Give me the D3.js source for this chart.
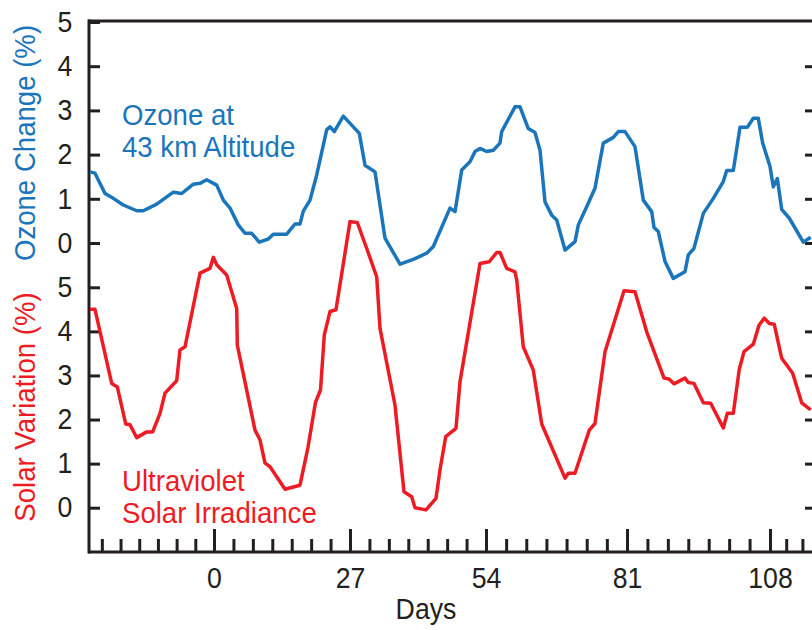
<!DOCTYPE html>
<html>
<head>
<meta charset="utf-8">
<script src="https://cdn.jsdelivr.net/npm/d3@7"></script>
<style>
  body { margin: 0; background: #fff; }
  text { font-family: "Liberation Sans Narrow", "Liberation Sans", Arial, sans-serif; }
</style>
</head>
<body>
<svg id="chart" width="812" height="630"></svg>
<script>
// ozone change at 43 km (days, %)
const ozoneDays = [-25.6, -24.56, -22.49, -20.78, -18.72, -15.95, -14.59, -11.82, -8.4, -6.66, -4.27, -2.89, -1.51,
  0.54, 1.85, 3.18, 4.82, 6.15, 7.48, 8.99, 10.78, 11.77, 14.43, 16.08, 17.07, 17.73, 19.06, 20.39, 22.37, 23.03, 23.88, 25.67,
  28.85, 29.98, 31.96, 33.95, 36.93, 39.57, 42.23, 43.54, 46.85, 47.85, 49.18, 50.82, 51.82, 52.81,
  54.13, 55.4, 56.68, 57.01, 59.55, 60.51, 62.1, 63.38, 64.34, 65.3, 66.58, 67.54, 69.13, 71.04, 71.68, 73.28, 74.87, 76.46, 78.38, 79.34, 80.62,
  82.51, 84.08, 85.66, 86.1, 86.91, 88.18, 89.74, 91.95, 92.57, 93.65, 95.41, 97.3, 99.18, 99.83, 101.07, 102.34, 103.72, 104.85, 105.79, 106.62,
  108, 108.79, 109.74, 110.79, 112.6, 115.93, 117.69];
const ozoneVals = [1.61, 1.58, 1.12, 1.01, 0.86, 0.73, 0.73, 0.88, 1.15, 1.12, 1.33, 1.35, 1.43,
  1.31, 0.97, 0.79, 0.41, 0.22, 0.22, 0.02, 0.09, 0.2, 0.2, 0.43, 0.43, 0.72, 0.97, 1.54, 2.56, 2.63, 2.52, 2.87,
  2.48, 1.76, 1.61, 0.11, -0.48, -0.37, -0.23, -0.08, 0.79, 0.71, 1.65, 1.84, 2.07, 2.14,
  2.07, 2.1, 2.26, 2.52, 3.08, 3.08, 2.59, 2.5, 2.1, 0.93, 0.63, 0.52, -0.16, 0.03, 0.41, 0.82, 1.24, 2.26, 2.39, 2.52, 2.52,
  2.18, 0.97, 0.71, 0.35, 0.26, -0.42, -0.8, -0.65, -0.27, -0.12, 0.67, 1.01, 1.39, 1.64, 1.64, 2.62, 2.62, 2.82, 2.82, 2.26,
  1.73, 1.27, 1.46, 0.76, 0.56, 0.02, 0.13];

// ultraviolet solar irradiance (days, %)
const solarDays = [-25.59, -24.56, -21.11, -19.95, -18.22, -17.33, -15.95, -13.89, -12.65, -11.14, -10.11, -7.7, -7.02, -5.98, -2.89, -0.82, -0.14,
  0.54, 2.52, 4.51, 4.63, 8.14, 9.13, 10.13, 11.12, 14.1, 17.07, 18.66, 20.15, 21.14, 21.9, 23.03, 24.22, 27.0,
  28.45, 30.32, 32.3, 32.96, 35.93, 37.72, 39.25, 39.9, 42.09, 44.07, 44.87, 46.0, 48.04, 48.84, 52.81,
  54.63, 56.05, 56.68, 57.96, 59.55, 59.88, 61.14, 63.06, 64.67, 69.13, 69.76, 71.04, 73.78, 74.87, 76.79, 80.43,
  82.51, 84.72, 87.99, 88.93, 89.87, 91.95, 92.57, 93.65, 95.41, 96.8, 99.18, 99.94, 101.07, 102.2, 103.09, 104.85, 105.92, 106.93, 107.87,
  109.02, 110.79, 113.4, 115.55, 117.69];
const solarVals = [4.5, 4.5, 2.82, 2.74, 1.9, 1.88, 1.59, 1.72, 1.72, 2.14, 2.6, 2.88, 3.58, 3.65, 5.32, 5.43, 5.68,
  5.51, 5.28, 4.52, 3.69, 1.76, 1.54, 1.01, 0.93, 0.42, 0.51, 1.37, 2.39, 2.67, 3.92, 4.45, 4.49, 6.49,
  6.47, 5.88, 5.24, 4.07, 2.33, 0.36, 0.25, 0.0, -0.05, 0.21, 0.86, 1.61, 1.8, 2.86, 5.54,
  5.58, 5.79, 5.79, 5.43, 5.35, 5.17, 3.65, 3.12, 1.9, 0.67, 0.78, 0.78, 1.76, 1.91, 3.54, 4.92,
  4.9, 3.99, 2.94, 2.92, 2.81, 2.94, 2.84, 2.82, 2.38, 2.37, 1.81, 2.14, 2.14, 3.14, 3.54, 3.71, 4.14, 4.3, 4.18,
  4.16, 3.39, 3.05, 2.38, 2.22];

const dayTicks = [0, 27, 54, 81, 108];
const pctTicks = [0, 1, 2, 3, 4, 5];

const ozone = ozoneDays.map((d, i) => ({day: d, v: ozoneVals[i]}));
const solar = solarDays.map((d, i) => ({day: d, v: solarVals[i]}));

const blue = "#1a75bb";
const red = "#ed1c24";
const ink = "#231f20";
const narrow = 0.92; // squeeze text a bit, the original face is condensed

const svg = d3.select("#chart");

// the day axis of the original is not quite even, so piecewise
const x = d3.scaleLinear()
    .domain([-26, 0, 27, 54, 81, 108, 118])
    .range([88, 214, 350, 486, 627, 770, 812]);

const yOzone = d3.scaleLinear().domain([0, 5]).range([243, 22]);
const ySolar = d3.scaleLinear().domain([0, 5]).range([507.7, 287.3]);

// minor ticks: 7 steps per 27 days
const minorTicks = [];
for (let k = -6; k <= 30; k++) {
    const t = k * 27 / 7;
    if (k % 7 !== 0 && t > -26 && t < 118) minorTicks.push(t);
}

// frame
svg.append("line").attr("x1", 88).attr("x2", 812).attr("y1", 21).attr("y2", 21)
    .attr("stroke", ink).attr("stroke-width", 3);
svg.append("line").attr("x1", 89).attr("x2", 89).attr("y1", 19.5).attr("y2", 553.5)
    .attr("stroke", ink).attr("stroke-width", 3);
svg.append("line").attr("x1", 88).attr("x2", 812).attr("y1", 552).attr("y2", 552)
    .attr("stroke", ink).attr("stroke-width", 3);

function styleAxis(g) {
    g.select(".domain").remove();
    g.selectAll(".tick line").attr("stroke", ink).attr("stroke-width", 3);
    g.selectAll(".tick text").attr("fill", ink).attr("font-size", 29)
        .attr("transform", `scale(${narrow},1)`);
}

// left axes (ticks point inward)
svg.append("g")
    .attr("transform", "translate(89,0)")
    .call(d3.axisLeft(yOzone).tickValues(pctTicks).tickSize(-11).tickPadding(18).tickFormat(d3.format("d")))
    .call(styleAxis);
svg.append("g")
    .attr("transform", "translate(89,0)")
    .call(d3.axisLeft(ySolar).tickValues(pctTicks).tickSize(-11).tickPadding(18).tickFormat(d3.format("d")))
    .call(styleAxis);

// right-hand ticks
svg.append("g")
    .attr("transform", "translate(812,0)")
    .call(d3.axisRight(yOzone).tickValues(pctTicks.slice(0, 5)).tickSize(-7).tickFormat(""))
    .call(styleAxis);
svg.append("g")
    .attr("transform", "translate(812,0)")
    .call(d3.axisRight(ySolar).tickValues(pctTicks).tickSize(-7).tickFormat(""))
    .call(styleAxis);

// day axis
svg.append("g")
    .attr("transform", "translate(0,552)")
    .call(d3.axisBottom(x).tickValues(minorTicks).tickSize(-13).tickFormat(""))
    .call(styleAxis);
svg.append("g")
    .attr("transform", "translate(0,552)")
    .call(d3.axisBottom(x).tickValues(dayTicks).tickSize(-23).tickPadding(15).tickFormat(d3.format("d")))
    .call(styleAxis);

// lines
const ozoneLine = d3.line().x(d => x(d.day)).y(d => yOzone(d.v));
const solarLine = d3.line().x(d => x(d.day)).y(d => ySolar(d.v));

svg.append("path").datum(ozone)
    .attr("d", ozoneLine)
    .attr("fill", "none").attr("stroke", blue).attr("stroke-width", 3.5)
    .attr("stroke-linejoin", "round");
svg.append("path").datum(solar)
    .attr("d", solarLine)
    .attr("fill", "none").attr("stroke", red).attr("stroke-width", 3.5)
    .attr("stroke-linejoin", "round");

// text helper
function label(tx, ty, rot, anchor, size, color, str) {
    svg.append("text")
        .attr("transform", `translate(${tx},${ty}) rotate(${rot}) scale(${narrow},1)`)
        .attr("text-anchor", anchor).attr("font-size", size).attr("fill", color)
        .text(str);
}

label(35, 143, -90, "middle", 30, blue, "Ozone Change (%)");
label(35, 407, -90, "middle", 30, red, "Solar Variation (%)");

label(122, 125, 0, "start", 30, blue, "Ozone at");
label(122, 157, 0, "start", 30, blue, "43 km Altitude");
label(122, 491, 0, "start", 30, red, "Ultraviolet");
label(122, 523, 0, "start", 30, red, "Solar Irradiance");

label(426, 619, 0, "middle", 29, ink, "Days");
</script>
</body>
</html>
